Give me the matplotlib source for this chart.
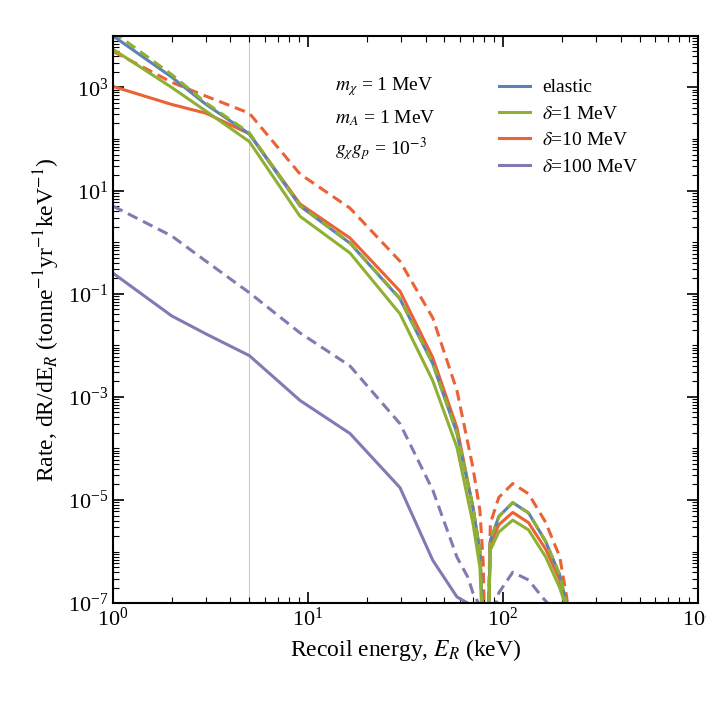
import numpy as np
import matplotlib
matplotlib.use("Agg")
import matplotlib.pyplot as plt
from matplotlib.ticker import LogLocator, FixedLocator, NullFormatter
from matplotlib.lines import Line2D

plt.rcParams["font.family"] = "Liberation Serif"
plt.rcParams["mathtext.fontset"] = "stix"

# log10 of the rate
E_main = [1, 2, 3, 5, 9.1, 16.4, 29.6, 43.6, 58, 70, 76, 79]
E_lobe = [82, 86, 95, 112, 135, 165, 195, 211, 222]

elastic = [4.0, 3.2, 2.67, 2.1, 0.70, -0.02, -1.10, -2.36, -3.71, -5.14, -6.0, -7.5]
elastic_lobe = [-9, -5.78, -5.32, -5.05, -5.25, -5.8, -6.45, -7.0, -7.6]

d1_solid = [3.74, 3.0, 2.54, 1.95, 0.50, -0.21, -1.39, -2.69, -3.98, -5.45, -6.3, -7.8]
d1_solid_lobe = [-9, -5.97, -5.62, -5.39, -5.58, -6.1, -6.7, -7.1, -7.6]
d1_dash = [4.08, 3.25, 2.70, 2.12, 0.71, -0.01, -1.09, -2.35, -3.70, -5.13, -6.0, -7.5]
d1_dash_lobe = elastic_lobe

d10_solid = [3.02, 2.67, 2.5, 2.1, 0.74, 0.08, -0.95, -2.24, -3.6, -5.14, -6.0, -7.5]
d10_solid_lobe = [-9, -5.85, -5.48, -5.24, -5.44, -5.95, -6.55, -7.05, -7.6]
d10_dash = [3.7, 3.1, 2.83, 2.5, 1.32, 0.66, -0.37, -1.47, -2.88, -4.37, -5.2, -6.2]
d10_dash_lobe = [-9, -5.45, -4.95, -4.68, -4.88, -5.43, -6.1, -6.85, -7.5]

E_p = [1, 2, 3, 5, 9.1, 16.4, 29.6, 43.6, 58, 66, 70, 76]
d100_solid = [-0.6, -1.43, -1.78, -2.2, -3.07, -3.71, -4.76, -6.17, -6.88, -7.0, -7.3, -7.8]
d100_dash = [0.7, 0.12, -0.37, -0.98, -1.76, -2.40, -3.52, -4.81, -6.11, -6.5, -6.8, -7.05]
E_p_lobe = [88, 95, 112, 135, 160, 174, 180]
d100_dash_lobe = [-7.3, -6.8, -6.4, -6.55, -6.9, -7.05, -7.3]

blue, green, red, purple = "#5E81B5", "#8FB032", "#EB6235", "#8778B3"

fig = plt.figure(figsize=(7.06, 7.03), dpi=100)
ax = fig.add_axes([0.16, 0.142, 0.829, 0.807])
ax.axvline(5, color="#cccccc", lw=0.8, zorder=0)

def pl(E, v, El, vl, c, ls):
    x = list(E) + list(El)
    y = [10.0 ** t for t in list(v) + list(vl)]
    ax.plot(x, y, color=c, ls=ls, lw=2.2, solid_joinstyle="round")

dash = (0, (3.5, 2))
pl(E_p, d100_solid, [], [], purple, "-")
pl(E_p, d100_dash, E_p_lobe, d100_dash_lobe, purple, dash)
pl(E_main, d10_dash, E_lobe, d10_dash_lobe, red, dash)
pl(E_main, d10_solid, E_lobe, d10_solid_lobe, red, "-")
pl(E_main, elastic, E_lobe, elastic_lobe, blue, "-")
pl(E_main, d1_solid, E_lobe, d1_solid_lobe, green, "-")
pl(E_main, d1_dash, E_lobe, d1_dash_lobe, green, dash)

ax.set_xscale("log"); ax.set_yscale("log")
ax.set_xlim(1, 1000); ax.set_ylim(1e-7, 1e4)
ax.yaxis.set_major_locator(FixedLocator([10.0 ** k for k in range(-7, 4, 2)]))
ax.yaxis.set_minor_locator(LogLocator(base=10, subs=np.arange(1, 10) * 1.0, numticks=50))
ax.yaxis.set_minor_formatter(NullFormatter())
ax.tick_params(which="both", direction="in", top=True, right=True, labelsize=16)
ax.tick_params(which="major", length=8, width=1.2)
ax.tick_params(which="minor", length=4, width=0.8)
for s in ax.spines.values():
    s.set_linewidth(1.5)
ax.set_xlabel(r"Recoil energy, $E_R$ (keV)", fontsize=17)
ax.set_ylabel(r"Rate, dR/dE$_R$ (tonne$^{-1}$yr$^{-1}$keV$^{-1}$)", fontsize=17)

ax.text(0.38, 0.91, r"$m_\chi$ = 1 MeV", transform=ax.transAxes, fontsize=14, va="center")
ax.text(0.38, 0.855, r"$m_A$ = 1 MeV", transform=ax.transAxes, fontsize=14, va="center")
ax.text(0.38, 0.80, r"$g_\chi g_p$ = 10$^{-3}$", transform=ax.transAxes, fontsize=14, va="center")

handles = [Line2D([], [], color=c, lw=2.2) for c in (blue, green, red, purple)]
labels = ["elastic", r"$\delta$=1 MeV", r"$\delta$=10 MeV", r"$\delta$=100 MeV"]
ax.legend(handles, labels, loc="upper left", bbox_to_anchor=(0.63, 0.955), frameon=False,
          fontsize=14, handlelength=1.6, handletextpad=0.6, labelspacing=0.45)

fig.savefig("out.png", dpi=100)
